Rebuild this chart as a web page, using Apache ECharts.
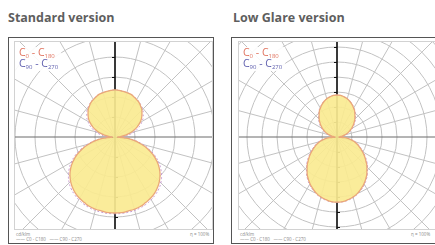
<!DOCTYPE html>
<html>
<head>
<meta charset="utf-8">
<script src="https://cdn.jsdelivr.net/npm/echarts@6/dist/echarts.min.js"></script>
<style>
  html, body { margin: 0; padding: 0; background: #fff; }
  body { width: 435px; height: 245px; position: relative; overflow: hidden; font-family: "Open Sans", "DejaVu Sans", sans-serif; }
  .title { position: absolute; top: 9px; font-size: 12.5px; font-weight: bold; color: #5e5e5e; white-space: nowrap; }
  .box { position: absolute; top: 37px; height: 207px; border: 1px solid #555; box-sizing: border-box; }
  .plot { position: absolute; top: 41px; height: 189px; border: 1px solid #d2d2d2; box-sizing: border-box; }
  .foot { position: absolute; font-size: 4.5px; color: #8a8a8a; white-space: nowrap; line-height: 5px; }
</style>
</head>
<body>
<div class="title" style="left:8px">Standard version</div>
<div class="title" style="left:233px">Low Glare version</div>

<div class="box" style="left:8px; width:206px"></div>
<div class="box" style="left:231px; width:220px"></div>

<div class="plot" id="plot-std" style="left:14px; width:199px"></div>
<div class="plot" id="plot-lg" style="left:238px; width:200px"></div>

<div class="foot" style="left:16px; top:232px">cd/klm<br>—— C0 - C180 &nbsp; —— C90 - C270</div>
<div class="foot" style="left:190px; top:232px">η = 100%</div>
<div class="foot" style="left:240px; top:232px">cd/klm<br>—— C0 - C180 &nbsp; —— C90 - C270</div>
<div class="foot" style="left:411px; top:232px">η = 100%</div>

<script>
// gamma angles (0 = straight down, 180 = straight up), every 5 degrees
const gammas = [
  0, 5, 10, 15, 20, 25, 30, 35, 40, 45, 50, 55, 60, 65, 70, 75, 80, 85, 90,
  95, 100, 105, 110, 115, 120, 125, 130, 135, 140, 145, 150, 155, 160, 165, 170, 175, 180
];

const seriesNames = ["C0 - C180", "C90 - C270"];

// Standard version, cd/klm
const stdC0 = [
  190, 190, 188, 187, 185, 181, 177, 172, 165, 157, 147, 135, 121, 105, 87, 67, 46, 23, 6,
  14, 27, 39, 51, 62, 72, 81, 88, 95, 100, 105, 108, 111, 114, 115, 116, 117, 118
];
const stdC90 = [
  192, 192, 191, 190, 188, 185, 181, 176, 170, 162, 152, 140, 126, 110, 92, 72, 51, 29, 12,
  25, 38, 50, 60, 70, 78, 86, 92, 98, 102, 106, 109, 112, 114, 115, 116, 117, 118
];

// Low Glare version, cd/klm
const lgC0 = [
  217, 216, 212, 207, 200, 190, 180, 168, 155, 141, 126, 112, 98, 84, 72, 60, 45, 26, 6,
  9, 18, 27, 36, 46, 55, 65, 74, 84, 93, 103, 111, 119, 126, 132, 136, 139, 140
];
const lgC90 = [
  218, 217, 214, 209, 202, 193, 183, 171, 158, 144, 130, 116, 102, 88, 76, 64, 49, 30, 10,
  14, 24, 33, 42, 51, 60, 69, 78, 87, 96, 105, 113, 120, 127, 132, 136, 139, 140
];

const radiusTicks = { std: { max: 400, interval: 50 }, lg: { max: 500, interval: 50 } };

const legendColors = ["#e0735f", "#5f5fae"];
const lineColors = ["#eaa878", "#c79ad0"];
const fillColor = "rgba(250, 234, 145, 0.92)";

// mirror a half curve (gamma 0..180) onto both sides of the diagram
const toPolar = (values) => {
  const right = values.map((r, i) => [r, gammas[i]]);
  const left = values.slice(0, -1).reverse().map((r, i) => [r, 360 - gammas[values.length - 2 - i]]);
  return right.concat(left);
};

const createDiagram = (id, c0, c90, scale, center, radius) => {
  const chart = echarts.init(document.getElementById(id), null, { renderer: "canvas" });

  const radiusAxisBase = {
    type: "value",
    min: 0,
    max: scale.max,
    interval: scale.interval,
    axisLabel: { show: false }
  };

  const option = {
    animation: false,
    legend: {
      orient: "vertical",
      left: -4,
      top: 5,
      padding: [1, 3],
      itemGap: 0,
      itemWidth: 0,
      itemHeight: 0,
      icon: "none",
      backgroundColor: "rgba(255,255,255,0.9)",
      data: seriesNames.map((name, i) => ({ name, textStyle: { color: legendColors[i] } })),
      formatter: (name) => {
        const [a, b] = name.split(" - ");
        return `{c|C}{s|${a.slice(1)}}{c| - C}{s|${b.slice(1)}}`;
      },
      textStyle: {
        fontFamily: "Open Sans",
        rich: {
          c: { fontSize: 10.5, fontFamily: "Open Sans" },
          s: { fontSize: 6, fontFamily: "Open Sans", verticalAlign: "bottom", padding: [4, 0, 0, 0] }
        }
      }
    },
    polar: [
      { center, radius },
      { center, radius }
    ],
    angleAxis: [
      {
        polarIndex: 0,
        type: "value",
        min: 0,
        max: 360,
        interval: 15,
        startAngle: 270,
        axisLine: { show: false },
        axisTick: { show: false },
        axisLabel: { show: false },
        splitLine: {
          show: true,
          lineStyle: { color: ["#6a6a6a", "#c2c2c2", "#c2c2c2", "#c2c2c2", "#c2c2c2", "#c2c2c2"], width: 1 }
        }
      },
      {
        polarIndex: 1,
        type: "value",
        min: 0,
        max: 360,
        startAngle: 90,
        show: false
      }
    ],
    radiusAxis: [
      Object.assign({}, radiusAxisBase, {
        polarIndex: 0,
        axisLine: { show: true, lineStyle: { color: "#111", width: 1.5 } },
        axisTick: { show: true, length: 3, lineStyle: { color: "#111" } },
        splitLine: { show: true, lineStyle: { color: "#c2c2c2", width: 1 } }
      }),
      Object.assign({}, radiusAxisBase, {
        polarIndex: 1,
        axisLine: { show: true, lineStyle: { color: "#111", width: 1.5 } },
        axisTick: { show: true, length: 3, lineStyle: { color: "#111" } },
        splitLine: { show: false }
      })
    ],
    series: [
      {
        name: seriesNames[1],
        type: "line",
        coordinateSystem: "polar",
        polarIndex: 0,
        smooth: true,
        symbol: "none",
        lineStyle: { color: lineColors[1], width: 1, type: [2, 2] },
        itemStyle: { color: legendColors[1] },
        data: toPolar(c90)
      },
      {
        name: seriesNames[0],
        type: "line",
        coordinateSystem: "polar",
        polarIndex: 0,
        smooth: true,
        symbol: "none",
        lineStyle: { color: lineColors[0], width: 1.3 },
        itemStyle: { color: legendColors[0] },
        areaStyle: { color: fillColor, opacity: 1 },
        data: toPolar(c0)
      }
    ]
  };

  chart.setOption(option);
  window.addEventListener("resize", chart.resize);
};

createDiagram("plot-std", stdC0, stdC90, radiusTicks.std, [100, 95], 160);
createDiagram("plot-lg", lgC0, lgC90, radiusTicks.lg, [98, 95], 150);
</script>
</body>
</html>
